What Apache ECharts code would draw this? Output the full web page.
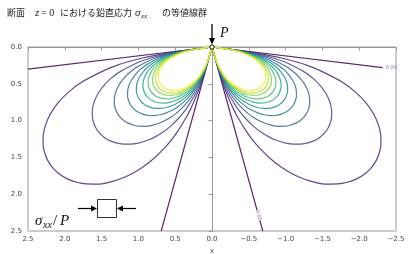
<!DOCTYPE html>
<html><head><meta charset="utf-8">
<script src="https://cdn.jsdelivr.net/npm/echarts@6/dist/echarts.min.js"></script>
<style>html,body{margin:0;padding:0;background:#fff}#c{width:412px;height:254px}</style>
</head><body><div id="c"></div>
<script>
// contour levels of sigma_xx / P
const levels = [0.00, 0.02, 0.04, 0.06, 0.08, 0.10, 0.12, 0.14, 0.16, 0.18, 0.20];
// viridis colour of each level
const levelColors = ['#440154', '#482475', '#414487', '#355f8d', '#2a788e', '#21918c',
                     '#22a884', '#44bf70', '#7ad151', '#bddf26', '#fde725'];
// widest horizontal extent (x) of each positive lobe (levels 0.02 .. 0.20)
const lobeExtent = [2.30, 1.63, 1.33, 1.15, 1.03, 0.94, 0.87, 0.81, 0.77, 0.73];
// outer (0.02) lobe on the x>0 side
const outerLobeX = [0, 0.50, 0.684, 0.945, 1.141, 1.304, 1.442, 1.762, 1.954, 2.095, 2.196, 2.260, 2.292,
  2.295, 2.271, 2.223, 2.154, 2.065, 1.959, 1.838, 1.706, 1.563, 1.413, 1.259, 1.101, 0.943, 0.787,
  0.635, 0.546, 0.458, 0.344, 0.287, 0.230, 0.169, 0.136, 0.098, 0];
const outerLobeY = [0, 0.066, 0.096, 0.150, 0.201, 0.253, 0.307, 0.472, 0.616, 0.763, 0.910, 1.054, 1.193,
  1.325, 1.447, 1.557, 1.653, 1.733, 1.795, 1.838, 1.861, 1.863, 1.842, 1.797, 1.728, 1.634, 1.512,
  1.361, 1.255, 1.133, 0.945, 0.834, 0.707, 0.553, 0.458, 0.340, 0];
// zero-level contour (straight rays from the load point)
const zeroLeftShallow = [[0, 0], [2.5, 0.30]];
const zeroLeftDeep = [[0, 0], [0.69, 2.5]];
const zeroRightShallow = [[0, 0], [-2.32, 0.28]];
const zeroRightDeep = [[0, 0], [-0.69, 2.5]];
const zeroLabel = '0.00';

const chart = echarts.init(document.getElementById('c'), null, {renderer: 'canvas'});
const series = [];
function addLine(data, color) {
  series.push({type: 'line', data: data, showSymbol: false, symbol: 'none', smooth: 0.2,
    lineStyle: {color: color, width: 1.2, opacity: 0.85}, clip: true, silent: true, z: 2});
}
[zeroLeftShallow, zeroLeftDeep, zeroRightShallow, zeroRightDeep].forEach(d => addLine(d, levelColors[0]));
for (let k = 1; k < levels.length; k++) {
  const s = lobeExtent[k - 1] / lobeExtent[0];
  const left = outerLobeX.map((x, i) => [x * s, outerLobeY[i] * s]);
  const right = outerLobeX.map((x, i) => [-x * s, outerLobeY[i] * s]);
  addLine(left, levelColors[k]);
  addLine(right, levelColors[k]);
}
const fmt = v => (v < 0 ? '\u2212' + (-v).toFixed(1) : Math.abs(v).toFixed(1));
const axisCommon = {
  type: 'value', interval: 0.5, inverse: true,
  splitLine: {show: false},
  axisLine: {show: true, lineStyle: {color: '#999', width: 1}},
  axisTick: {show: true, length: 3.5, lineStyle: {color: '#999'}},
  axisLabel: {fontSize: 7, color: '#444', fontFamily: 'DejaVu Sans', formatter: fmt},
  nameLocation: 'middle', nameTextStyle: {fontSize: 7, color: '#444', fontFamily: 'DejaVu Sans'}
};
chart.setOption({
  animation: false,
  grid: {left: 28, right: 16, top: 47, bottom: 23, show: true, borderColor: '#999', borderWidth: 1,
    containLabel: false, outerBoundsMode: 'none'},
  xAxis: Object.assign({}, axisCommon, {min: -2.5, max: 2.5, name: 'x', nameGap: 14,
    axisLabel: Object.assign({}, axisCommon.axisLabel, {margin: 5})}),
  yAxis: Object.assign({}, axisCommon, {min: 0, max: 2.5, name: 'y', nameGap: 21, nameRotate: 90,
    axisLabel: Object.assign({}, axisCommon.axisLabel, {margin: 6})}),
  series: series
});

const o = chart.convertToPixel({gridIndex: 0}, [0, 0]);
const rs = chart.convertToPixel({gridIndex: 0}, zeroRightShallow[1]);
const rdp = chart.convertToPixel({gridIndex: 0}, [-0.63, 2.29]);
const cjk = 'Noto Sans CJK JP';
const serif = 'Liberation Serif';
const T = (x, y, text, size, extra) => Object.assign({type: 'text', x: x, y: y, silent: true,
  style: Object.assign({text: text, fontSize: size, fontFamily: cjk, fill: '#222', verticalAlign: 'middle'}, extra || {})});
chart.setOption({graphic: [
  T(7, 13, '断面', 9),
  T(35, 13, 'z', 11, {fontFamily: serif, fontStyle: 'italic'}),
  T(41, 13, '= 0', 10, {fontFamily: serif}),
  T(60, 13, 'における鉛直応力', 9),
  T(135, 13, 'σ', 11, {fontFamily: serif, fontStyle: 'italic'}),
  T(141, 16, 'xx', 7, {fontFamily: serif, fontStyle: 'italic'}),
  T(162, 13, 'の等値線群', 9),
  // load arrow
  {type: 'line', silent: true, shape: {x1: o[0], y1: o[1] - 23, x2: o[0], y2: o[1] - 8}, style: {stroke: '#000', lineWidth: 1.3}},
  {type: 'polygon', silent: true, shape: {points: [[o[0] - 3, o[1] - 9], [o[0] + 3, o[1] - 9], [o[0], o[1] - 2.5]]}, style: {fill: '#000'}},
  {type: 'circle', silent: true, z: 10, shape: {cx: o[0], cy: o[1], r: 2.2}, style: {fill: '#fff', stroke: '#000', lineWidth: 1}},
  T(o[0] + 8, o[1] - 14, 'P', 14, {fontFamily: serif, fontStyle: 'italic', fill: '#111'}),
  // zero labels
  T(rs[0] + 3, rs[1], zeroLabel, 5, {fontFamily: 'DejaVu Sans', fill: '#8a70a8'}),
  {type: 'text', silent: true, x: rdp[0], y: rdp[1], rotation: -1.31, z: 5,
    style: {text: zeroLabel, fontSize: 5, fontFamily: 'DejaVu Sans', fill: '#8a70a8', align: 'center', verticalAlign: 'middle', backgroundColor: '#fff'}},
  // inset legend
  T(35, 221, 'σ', 15, {fontFamily: serif, fontStyle: 'italic', fill: '#111'}),
  T(43, 225, 'xx', 10, {fontFamily: serif, fontStyle: 'italic', fill: '#111'}),
  T(53, 221, '/', 15, {fontFamily: serif, fill: '#111'}),
  T(60, 221, 'P', 15, {fontFamily: serif, fontStyle: 'italic', fill: '#111'}),
  {type: 'rect', silent: true, shape: {x: 97.5, y: 199.5, width: 19, height: 18}, style: {fill: '#fff', stroke: '#333', lineWidth: 1}},
  {type: 'line', silent: true, shape: {x1: 78, y1: 208.5, x2: 92, y2: 208.5}, style: {stroke: '#000', lineWidth: 1.2}},
  {type: 'polygon', silent: true, shape: {points: [[91, 205.5], [97, 208.5], [91, 211.5]]}, style: {fill: '#000'}},
  {type: 'line', silent: true, shape: {x1: 136, y1: 208.5, x2: 122, y2: 208.5}, style: {stroke: '#000', lineWidth: 1.2}},
  {type: 'polygon', silent: true, shape: {points: [[123, 205.5], [117, 208.5], [123, 211.5]]}, style: {fill: '#000'}}
]});
</script></body></html>
